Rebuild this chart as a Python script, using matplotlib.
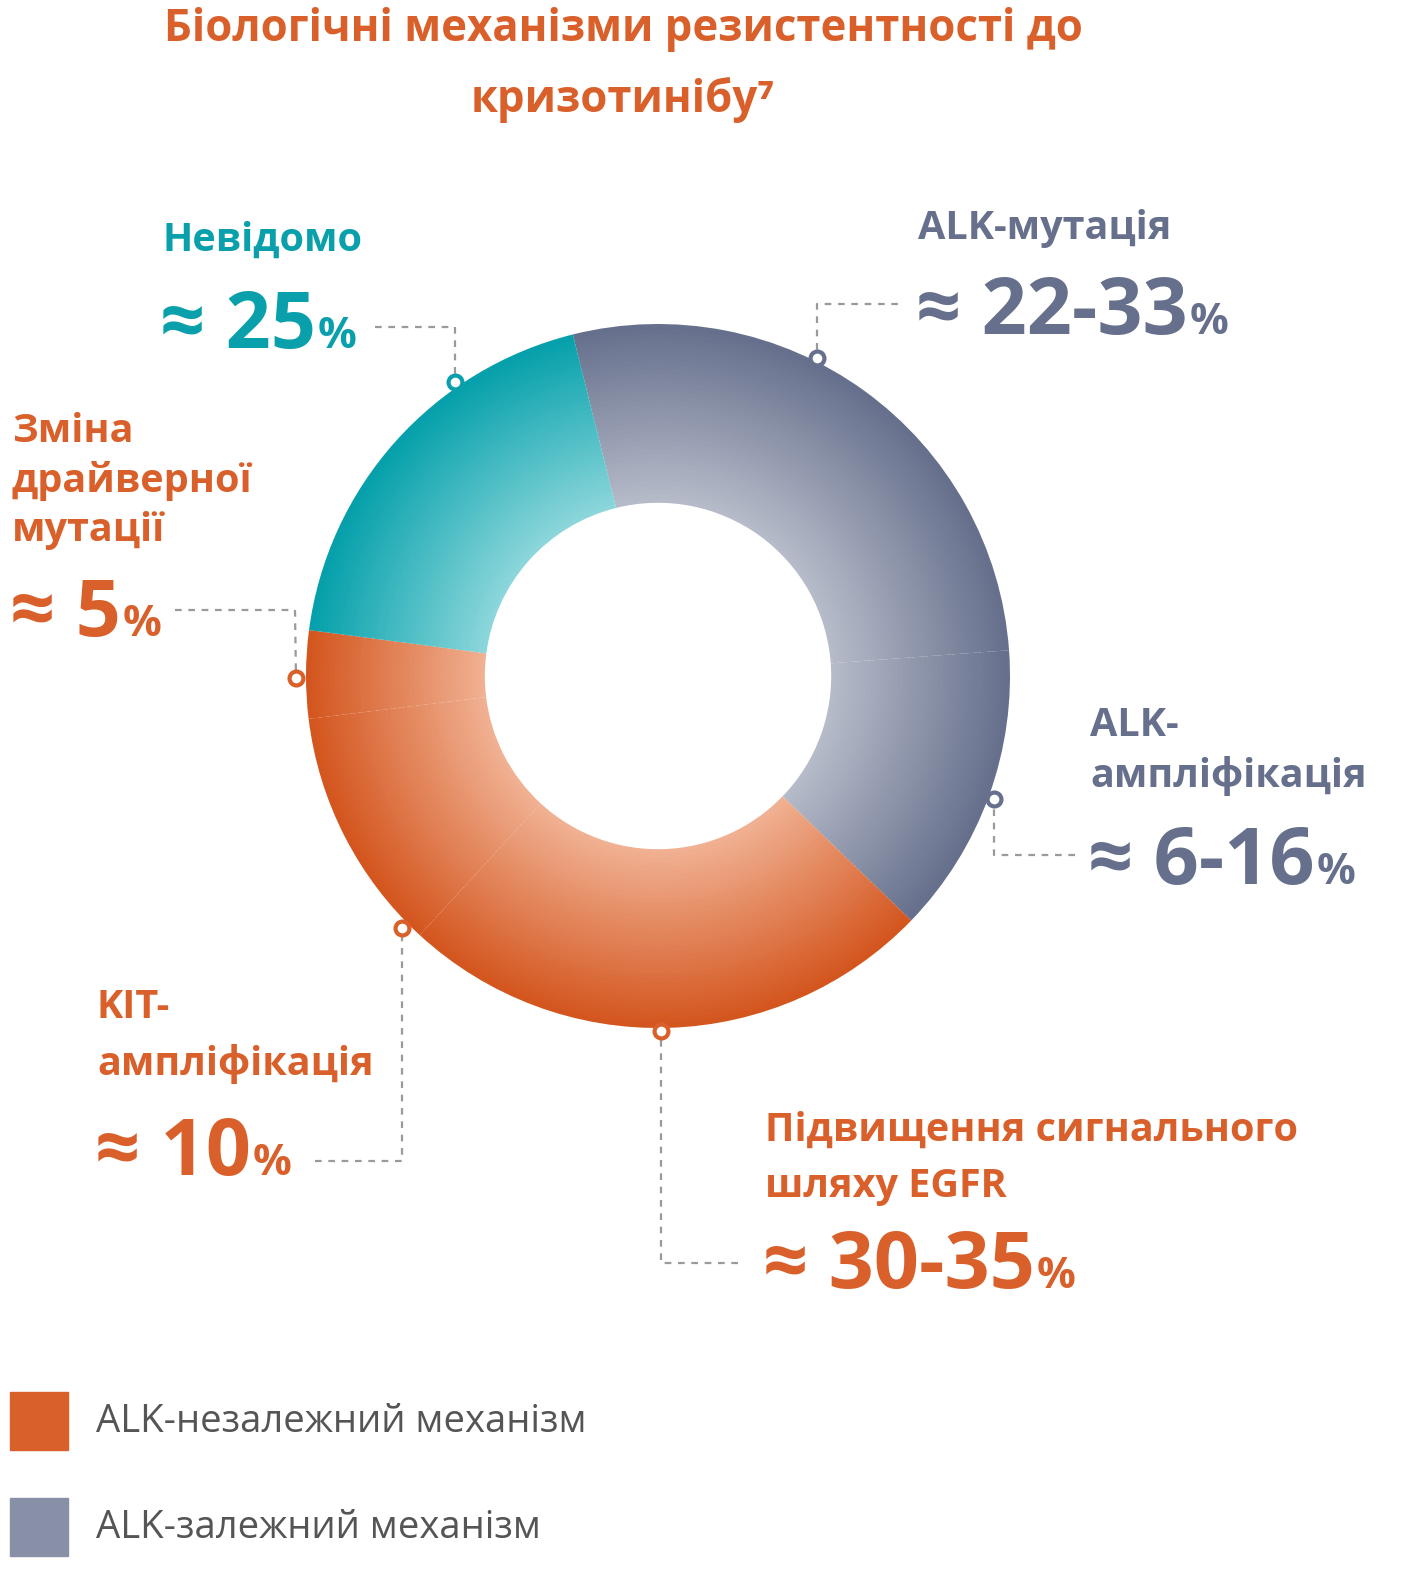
import matplotlib
matplotlib.use("Agg")
import matplotlib.pyplot as plt
import numpy as np
from matplotlib.colors import to_rgb

# slice order clockwise from ALK-mutation (angular share of the ring, degrees)
slices = ["ALK-мутація", "ALK-ампліфікація", "EGFR", "KIT", "Драйвер", "Невідомо"]
shares = [99.8, 48.2, 88.6, 40.4, 14.5, 68.5]
groups = ["gray", "gray", "orange", "orange", "orange", "teal"]

legend_labels = ["ALK-незалежний механізм", "ALK-залежний механізм"]

ORANGE = "#d9602a"
GRAY = "#66708c"
TEAL = "#0aa0ab"
shades = {
    "gray": ("#b6bbc9", "#66708c"),
    "orange": ("#f0b091", "#d4561f"),
    "teal": ("#8ad6da", "#05a0ab"),
}

W, H = 1404, 1588
fig = plt.figure(figsize=(W / 100, H / 100), dpi=100)

# donut in its own axes centred on (658, 676) px
cx, cy, R, r_in = 658, 676, 352, 174
pad = 360
dax = fig.add_axes([(cx - pad) / W, (H - cy - pad) / H, 2 * pad / W, 2 * pad / H])
dax.axis("off")

n_rings = 40
edges = np.linspace(r_in, R, n_rings + 1)
for i in range(n_rings):
    t = i / (n_rings - 1)
    cols = []
    for g in groups:
        a, b = np.array(to_rgb(shades[g][0])), np.array(to_rgb(shades[g][1]))
        cols.append(tuple(a + (b - a) * t))
    dax.pie(shares, radius=edges[i + 1], startangle=104, counterclock=False,
            colors=cols, wedgeprops=dict(width=edges[i + 1] - edges[i] + 0.8, linewidth=0))
dax.set_xlim(-pad, pad)
dax.set_ylim(-pad, pad)
dax.set_aspect("equal")

# overlay axes in pixel coordinates
ax = fig.add_axes([0, 0, 1, 1], zorder=5)
ax.set_xlim(0, W)
ax.set_ylim(H, 0)
ax.axis("off")
ax.patch.set_alpha(0)

FONT = "Open Sans"
fig.canvas.draw()
renderer = fig.canvas.get_renderer()


def big_value(x, y, value, color):
    t = ax.text(x, y, "≈ " + value, fontsize=57, fontweight="bold", color=color,
                family=FONT, va="baseline")
    bb = t.get_window_extent(renderer)
    ax.text(bb.x1 + 2, y, "%", fontsize=31, fontweight="bold", color=color,
            family=FONT, va="baseline")


def label(x, y, lines, color, step):
    for k, s in enumerate(lines):
        ax.text(x, y + k * step, s, fontsize=28.5, fontweight="bold", color=color,
                family=FONT, va="center")


def leader(pts, color):
    xs, ys = zip(*pts)
    ax.plot(xs, ys, color="#9a9a9a", lw=1.6, ls=(0, (3, 3)), zorder=6)
    ax.plot(xs[-1], ys[-1], "o", ms=10, mfc="white", mec=color, mew=3, zorder=7)


ax.text(623, 30, "Біологічні механізми резистентності до", ha="center", va="center",
        fontsize=31.5, fontweight="bold", color=ORANGE, family=FONT)
ax.text(623, 100, "кризотинібу⁷", ha="center", va="center",
        fontsize=31.5, fontweight="bold", color=ORANGE, family=FONT)

items = [
    (TEAL, [(375, 327), (455, 327), (455, 382)]),
    (GRAY, [(898, 304), (817, 304), (817, 358)]),
    (ORANGE, [(175, 610), (295, 610), (296, 678)]),
    (GRAY, [(1075, 855), (994, 855), (994, 799)]),
    (ORANGE, [(315, 1161), (402, 1161), (402, 928)]),
    (ORANGE, [(738, 1263), (661, 1263), (661, 1031)]),
]
for c, pts in items:
    leader(pts, c)

label(162, 240, ["Невідомо"], TEAL, 50)
big_value(160, 348, "25", TEAL)
label(918, 228, ["ALK-мутація"], GRAY, 50)
big_value(916, 334, "22-33", GRAY)
label(12, 432, ["Зміна", "драйверної", "мутації"], ORANGE, 49)
big_value(10, 636, "5", ORANGE)
label(1090, 725, ["ALK-", "ампліфікація"], GRAY, 51)
big_value(1088, 884, "6-16", GRAY)
label(97, 1008, ["KIT-", "ампліфікація"], ORANGE, 56)
big_value(95, 1175, "10", ORANGE)
label(765, 1130, ["Підвищення сигнального", "шляху EGFR"], ORANGE, 56)
big_value(763, 1288, "30-35", ORANGE)

for k, (lab, c) in enumerate(zip(legend_labels, [ORANGE, "#8790a6"])):
    y0 = 1392 + k * 106
    ax.add_patch(plt.Rectangle((10, y0), 58, 58, color=c))
    ax.text(96, y0 + 30, lab, fontsize=27.5, color="#555555", family=FONT, va="center")

fig.savefig("out.png", dpi=100)
